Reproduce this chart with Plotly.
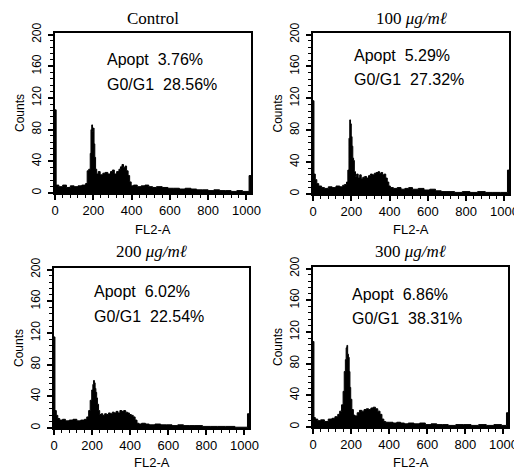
import plotly.graph_objects as go
from plotly.subplots import make_subplots

# ---- data (channel, counts) ----
titles = ["Control", "100 <i>μg/mℓ</i>", "200 <i>μg/mℓ</i>", "300 <i>μg/mℓ</i>"]
apopt = ["Apopt  3.76%", "Apopt  5.29%", "Apopt  6.02%", "Apopt  6.86%"]
g0g1 = ["G0/G1  28.56%", "G0/G1  27.32%", "G0/G1  22.54%", "G0/G1  38.31%"]

ctrl_x = [0, 6, 20, 40, 60, 80, 100, 120, 140, 160, 168, 176, 184, 188, 192, 196, 200, 204,
          208, 212, 218, 226, 236, 250, 262, 276, 290, 300, 310, 322, 334, 342, 350, 358, 366,
          374, 382, 390, 398, 410, 430, 450, 470, 490, 510, 530, 560, 590, 620, 650, 680, 710,
          740, 770, 800, 830, 860, 890, 920, 950, 980, 1014, 1024]
ctrl_y = [105, 10, 8, 10, 7, 9, 8, 9, 10, 12, 28, 30, 50, 80, 86, 78, 82, 62,
          45, 30, 24, 27, 23, 25, 26, 24, 27, 29, 24, 27, 30, 33, 36, 32, 34,
          28, 22, 14, 9, 10, 8, 9, 10, 8, 7, 8, 7, 6, 6, 5, 6, 5,
          4, 4, 3, 4, 3, 3, 2, 3, 2, 22, 22]

d100_x = [0, 5, 12, 20, 30, 45, 60, 80, 100, 120, 140, 155, 165, 175, 182, 188, 192, 196, 200,
          204, 208, 212, 216, 222, 228, 236, 244, 252, 260, 270, 280, 290, 300, 310, 320, 330,
          340, 348, 356, 364, 372, 380, 388, 396, 404, 420, 440, 460, 480, 500, 520, 550, 580,
          610, 640, 670, 700, 740, 780, 820, 860, 900, 940, 980, 1016, 1024]
d100_y = [117, 25, 18, 13, 10, 8, 7, 9, 8, 10, 9, 11, 12, 15, 30, 70, 93, 88, 72,
          60, 45, 42, 28, 22, 25, 20, 24, 19, 21, 22, 20, 23, 25, 24, 26, 27,
          28, 26, 27, 24, 25, 20, 15, 10, 8, 7, 8, 6, 7, 8, 6, 7, 5,
          6, 4, 3, 3, 2, 3, 2, 3, 2, 2, 2, 30, 30]

d200_x = [0, 5, 12, 20, 30, 45, 60, 80, 100, 120, 140, 160, 172, 182, 190, 198, 204, 208, 212,
          216, 220, 224, 228, 234, 240, 248, 256, 266, 276, 286, 296, 306, 316, 326, 336, 346,
          356, 366, 376, 386, 396, 406, 416, 426, 436, 446, 460, 480, 500, 530, 560, 590, 620,
          650, 680, 710, 740, 780, 820, 860, 900, 950, 1016, 1024]
d200_y = [115, 22, 16, 12, 10, 11, 9, 10, 11, 9, 10, 11, 14, 22, 35, 48, 55, 60, 57,
          50, 45, 38, 30, 22, 17, 18, 16, 18, 17, 19, 18, 20, 19, 21, 19, 22,
          21, 22, 20, 19, 17, 16, 14, 10, 6, 5, 6, 5, 4, 5, 4, 4, 3,
          4, 3, 3, 3, 2, 2, 2, 2, 1, 18, 18]

d300_x = [0, 5, 12, 25, 40, 60, 80, 100, 115, 130, 140, 150, 158, 164, 170, 174, 178, 182, 186,
          190, 194, 198, 204, 212, 220, 232, 244, 256, 268, 280, 292, 304, 316, 328, 340, 352,
          362, 372, 382, 400, 420, 440, 460, 480, 500, 530, 560, 590, 620, 650, 680, 710, 750,
          790, 830, 870, 910, 950, 990, 1016, 1024]
d300_y = [108, 12, 10, 8, 9, 7, 10, 11, 13, 16, 20, 28, 45, 70, 85, 100, 103, 92, 88,
          70, 50, 35, 22, 15, 14, 18, 21, 20, 22, 23, 22, 24, 25, 23, 20, 16,
          10, 7, 6, 6, 5, 6, 5, 4, 5, 4, 5, 3, 4, 3, 3, 2, 3,
          3, 2, 3, 2, 3, 2, 18, 18]

series = [(ctrl_x, ctrl_y), (d100_x, d100_y), (d200_x, d200_y), (d300_x, d300_y)]
# annotation anchor points in data units (channel, counts)
apopt_pos = [(262, 169), (204, 174), (200, 172), (196, 167)]
g0g1_pos = [(262, 137), (204, 144), (200, 141), (196, 137)]

# ---- layout, in window pixels (left, right, top, bottom) ----
# the page body keeps the browser's 8px margin, so the figure is 8px smaller
# and every window position is shifted by that offset
OFF = 8
FW, FH = 522 - OFF, 471 - OFF
boxes = [(55, 251, 33, 193), (313, 509, 33, 194), (54, 249, 268, 428), (313, 508, 267, 427)]
title_y = [18, 18, 251, 251]
xlabel_y = [230, 230, 462, 462]


def px(x):
    return (x - OFF) / FW


def py(y):
    return 1 - (y - OFF) / FH


SANS = "Liberation Sans, Arial, sans-serif"
SERIF = "Liberation Serif, Times New Roman, serif"

fig = make_subplots(rows=2, cols=2)

for i, (xs, ys) in enumerate(series):
    r, c = i // 2 + 1, i % 2 + 1
    fig.add_trace(go.Scatter(x=xs, y=ys, mode="lines", line_shape="hv",
                             line=dict(color="black", width=1),
                             fill="tozeroy", fillcolor="black",
                             showlegend=False, hoverinfo="skip"), row=r, col=c)

annotations = []
for i, (l, rr, t, b) in enumerate(boxes):
    sfx = "" if i == 0 else str(i + 1)
    fig.layout["xaxis" + sfx].update(
        domain=[px(l), px(rr)], range=[0, 1024], tickmode="linear", tick0=0, dtick=200,
        automargin=False,
        ticks="outside", ticklen=5, tickwidth=1.5, tickcolor="black",
        showline=True, linecolor="black", linewidth=1.5, mirror=True,
        showgrid=False, zeroline=False,
        tickfont=dict(family=SANS, size=13, color="black"),
        minor=dict(tick0=0, dtick=40, ticks="outside", ticklen=3, tickwidth=1.2,
                   tickcolor="black", showgrid=False))
    fig.layout["yaxis" + sfx].update(
        domain=[py(b), py(t)], range=[0, 202], tickmode="linear", tick0=0, dtick=40,
        automargin=False, ticklabelstandoff=2,
        ticks="outside", ticklen=5, tickwidth=1.5, tickcolor="black", tickangle=-90,
        showline=True, linecolor="black", linewidth=1.5, mirror=True,
        showgrid=False, zeroline=False,
        tickfont=dict(family=SANS, size=12, color="black"),
        minor=dict(tick0=0, dtick=8, ticks="outside", ticklen=3, tickwidth=1.2,
                   tickcolor="black", showgrid=False))

    xc = px((l + rr) / 2)
    annotations.append(dict(text=titles[i], x=xc, y=py(title_y[i]), xref="paper", yref="paper",
                            xanchor="center", yanchor="middle", showarrow=False,
                            font=dict(family=SERIF, size=17, color="black")))
    annotations.append(dict(text="FL2-A", x=xc, y=py(xlabel_y[i]), xref="paper", yref="paper",
                            xanchor="center", yanchor="middle", showarrow=False,
                            font=dict(family=SANS, size=13, color="black")))
    annotations.append(dict(text="Counts", x=px(l - 35), y=py((t + b) / 2),
                            xref="paper", yref="paper", xanchor="center", yanchor="middle",
                            textangle=-90, showarrow=False,
                            font=dict(family=SANS, size=12, color="black")))
    for txt, (ax, ay) in ((apopt[i], apopt_pos[i]), (g0g1[i], g0g1_pos[i])):
        annotations.append(dict(text=txt, x=ax, y=ay, xref="x" + sfx, yref="y" + sfx,
                                xanchor="left", yanchor="middle", showarrow=False,
                                font=dict(family=SANS, size=16, color="black")))

fig.update_layout(width=FW, height=FH, margin=dict(l=0, r=0, t=0, b=0),
                  paper_bgcolor="white", plot_bgcolor="white",
                  annotations=annotations)

fig.write_html("out.html")
